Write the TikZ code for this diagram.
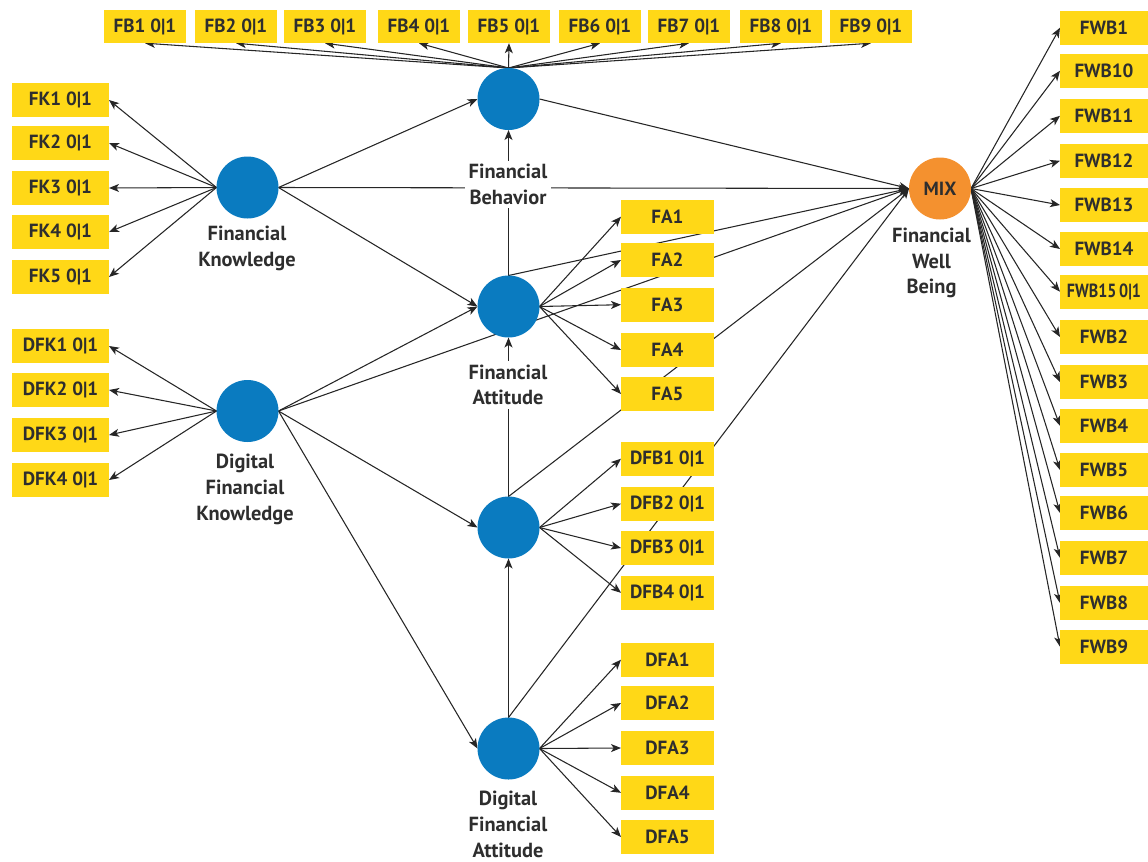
\documentclass[tikz,border=0pt]{standalone}
\usepackage{fontspec}
\setmainfont{PT Sans}
\usetikzlibrary{arrows.meta}
\definecolor{lvblue}{HTML}{0A7BC0}
\definecolor{mixorange}{HTML}{F4912F}
\definecolor{indyellow}{HTML}{FFD817}
\definecolor{txtdark}{HTML}{2E2E2E}
\definecolor{linedark}{HTML}{262626}
\pgfdeclarelayer{edges}
\pgfsetlayers{edges,main}
\begin{document}
\begin{tikzpicture}[x=0.75pt,y=-0.75pt,
  lv/.style={circle, fill=lvblue, minimum size=46.5pt, inner sep=0pt, outer sep=0pt},
  ind/.style={fill=indyellow, inner sep=0pt, outer sep=0pt, minimum height=25.5pt,
              font=\bfseries\fontsize{14.3}{16}\selectfont, text=txtdark},
  indfb/.style={ind, minimum width=61.5pt, minimum height=24.75pt},
  indfk/.style={ind, minimum width=72.75pt},
  indfa/.style={ind, minimum width=69.75pt},
  indfw/.style={ind, minimum width=66pt},
  lbl/.style={align=center, fill=white, inner sep=2.5pt,
              font=\bfseries\fontsize{15.3}{19.3}\selectfont, text=txtdark},
  arr/.style={draw=linedark, line width=0.8pt, -{Stealth[length=7.5pt,width=6pt,inset=2pt]}}
]
\useasboundingbox (0,0) rectangle (1148,861);

% latent variables
\node[lv] (FK) at (247.5,187.5) {};
\node[lv] (DFK) at (247.5,411) {};
\node[lv] (FB) at (508.5,99) {};
\node[lv] (FA) at (508.5,306.5) {};
\node[lv] (DFB) at (508.5,527.5) {};
\node[lv] (DFA) at (508.5,748.5) {};
\node[lv, fill=mixorange, font=\bfseries\fontsize{14.3}{16}\selectfont, text=txtdark] (MIX) at (940,188.5) {MIX};

% indicators
\foreach \i/\x in {1/145,2/236,3/325,4/419,5/509,6/600,7/689,8/781,9/871}
  \node[indfb] (fb\i) at (\x,26.7) {FB\i\ 0|1};
\foreach \i/\y in {1/100,2/143,3/188,4/232,5/277}
  \node[indfk] (fk\i) at (60.5,\y) {FK\i\ 0|1};
\foreach \i/\y in {1/346,2/390,3/435,4/480}
  \node[indfk] (dfk\i) at (60.5,\y) {DFK\i\ 0|1};
\foreach \i/\y in {1/216.7,2/260,3/304.7,4/350,5/394}
  \node[indfa] (fa\i) at (667.5,\y) {FA\i};
\foreach \i/\y in {1/458.7,2/503.7,3/548,4/592.8}
  \node[indfa] (dfb\i) at (667.5,\y) {DFB\i\ 0|1};
\foreach \i/\y in {1/659.7,2/703,3/748,4/792.8,5/837}
  \node[indfa] (dfa\i) at (667.5,\y) {DFA\i};
\foreach \n/\y in {1/27.7,10/70.8,11/115.8,12/160.8,13/205,14/249,2/337,3/382,4/425.8,5/470,6/513,7/557.8,8/603,9/646.7}
  \node[indfw] (fwb\n) at (1104,\y) {FWB\n};
\node[indfw] (fwb15) at (1104,291.7) {\scalebox{0.84}[1]{FWB15\,0|1}};

% labels
\node[lbl] (lFK) at (247,248.5) {Financial\\Knowledge};
\node[lbl] (lDFK) at (245,489.5) {Digital\\Financial\\Knowledge};
\node[lbl] (lFB) at (508,184.5) {Financial\\Behavior};
\node[lbl] (lFA) at (508,385) {Financial\\Attitude};
\node[lbl] (lDFA) at (508,824.5) {Digital\\Financial\\Attitude};
\node[lbl] (lFWB) at (931.5,263) {Financial\\Well\\Being};

\begin{pgfonlayer}{edges}
\foreach \i in {1,...,9} \draw[arr] (FB.north) -- (fb\i.south);
\foreach \i in {1,...,5} \draw[arr] (FK.west) -- (fk\i.east);
\foreach \i in {1,...,4} \draw[arr] (DFK.west) -- (dfk\i.east);
\foreach \i in {1,...,5} \draw[arr] (FA.east) -- (fa\i.west);
\foreach \i in {1,...,4} \draw[arr] (DFB.east) -- (dfb\i.west);
\foreach \i in {1,...,5} \draw[arr] (DFA.east) -- (dfa\i.west);
\foreach \n in {1,10,11,12,13,14,15,2,3,4,5,6,7,8,9} \draw[arr] (MIX.east) -- (fwb\n.west);
\draw[arr] (FK.east) -- (FB.west);
\draw[arr] (FK.east) -- (MIX.west);
\draw[arr] (FK.east) -- (FA.west);
\draw[arr] (DFK.east) -- (FA.west);
\draw[arr] (DFK.east) -- (DFB.west);
\draw[arr] (DFK.east) -- (DFA.west);
\draw[arr] (DFK.east) -- (MIX.west);
\draw[arr] (FB.east) -- (MIX.west);
\draw[arr] (FA.north) -- (MIX.west);
\draw[arr] (DFB.north) -- (MIX.west);
\draw[arr] (DFA.north) -- (MIX.west);
\draw[arr] (FA.north) -- (FB.south);
\draw[arr] (DFB.north) -- (FA.south);
\draw[arr] (DFA.north) -- (DFB.south);
\end{pgfonlayer}
\end{tikzpicture}
\end{document}
